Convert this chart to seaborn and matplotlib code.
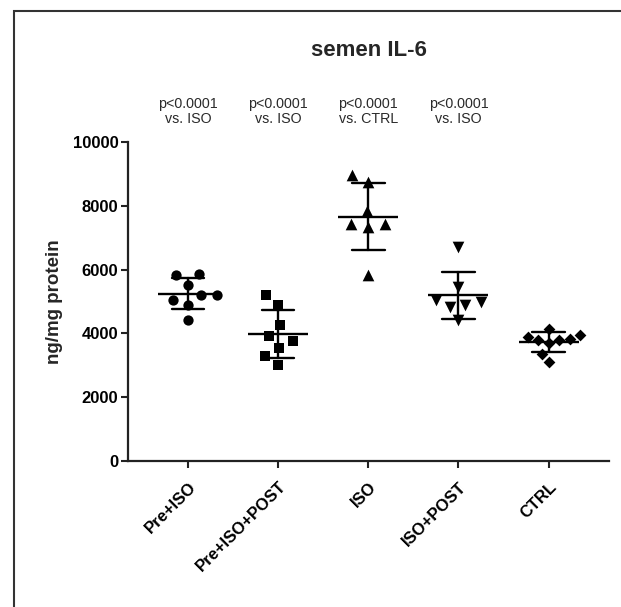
import numpy as np
import pandas as pd
import seaborn as sns
import matplotlib.pyplot as plt
from matplotlib.patches import Rectangle

groups = ["Pre+ISO", "Pre+ISO+POST", "ISO", "ISO+POST", "CTRL"]
pre_iso = [5520, 5820, 5860, 5200, 5200, 5050, 4900, 4420]
pre_iso_post = [5200, 4890, 4260, 3760, 3920, 3540, 3290, 3010]
iso = [8760, 8970, 7850, 7420, 7330, 7440, 5820]
iso_post = [6720, 5460, 5050, 4900, 5000, 4820, 4420]
ctrl = [4150, 3820, 3780, 3700, 3950, 3900, 3800, 3350, 3100]
p_labels = ["p<0.0001\nvs. ISO", "p<0.0001\nvs. ISO", "p<0.0001\nvs. CTRL", "p<0.0001\nvs. ISO"]

markers = ["o", "s", "^", "v", "D"]
sizes = [7.4, 7.0, 8.4, 8.4, 6.0]
# marker sizes used only to lay out each swarm (GraphPad spreads points wider)
swarm_spacing = [11, 11, 12, 11, 7.5]

values = [pre_iso, pre_iso_post, iso, iso_post, ctrl]
df = pd.DataFrame({
    "group": np.repeat(groups, [len(v) for v in values]),
    "value": np.concatenate(values),
})

sns.set_style("ticks")
plt.rcParams["font.family"] = ["Liberation Sans", "DejaVu Sans"]

fig = plt.figure(figsize=(6.21, 6.07), dpi=100)
ax = fig.add_axes([128 / 621, 1 - 461 / 607, 481 / 621, 319 / 607])

# mean line + SD bars
sns.pointplot(data=df, x="group", y="value", order=groups, errorbar="sd",
              capsize=0.36, color="black", markers="_", markersize=43,
              markeredgewidth=1.7, linestyle="none",
              err_kws={"linewidth": 1.7}, ax=ax)

swarms = []
for g, m, s, sp in zip(groups, markers, sizes, swarm_spacing):
    n_before = len(ax.collections)
    sns.swarmplot(data=df[df["group"] == g], x="group", y="value", order=groups,
                  marker=m, size=sp, color="black", linewidth=0, ax=ax)
    for coll in ax.collections[n_before:]:
        swarms.append((coll, s))

ax.set_xlim(-0.667, 4.67)
ax.set_ylim(0, 10000)
ax.set_yticks([0, 2000, 4000, 6000, 8000, 10000])
sns.despine(ax=ax)
for sp in ["left", "bottom"]:
    ax.spines[sp].set_linewidth(1.6)
    ax.spines[sp].set_color("#222222")
ax.tick_params(axis="both", width=1.5, length=5, colors="#222222", labelcolor="black")
ax.tick_params(axis="y", labelsize=12, pad=2)
for lab in ax.get_yticklabels():
    lab.set_fontweight("bold")

ax.set_xlabel("")
ax.set_xticks(range(len(groups)))
ax.set_xticklabels(groups, rotation=45, ha="right", va="top",
                   rotation_mode="anchor", fontsize=12, fontweight="bold")
ax.tick_params(axis="x", pad=8)

ax.set_ylabel("ng/mg protein", fontsize=13.5, fontweight="bold", labelpad=7)
ax.set_title("semen IL-6", fontsize=16, fontweight="bold", pad=62)

for i, txt in enumerate(p_labels):
    ax.text(i, 10950, txt, ha="center", va="center", fontsize=10.3,
            color="#2a2a2a", linespacing=1.05, clip_on=False)

fig.patches.append(Rectangle((14 / 621, -0.05), 1.1, 1 - 11 / 607 + 0.05,
                             transform=fig.transFigure, fill=False,
                             linewidth=1.5, edgecolor="#333333"))

# lay out swarms with the wide spacing, then freeze positions and shrink markers
fig.canvas.draw()
for coll, s in swarms:
    if "draw" in coll.__dict__:
        del coll.draw
    coll.set_sizes([s ** 2])

fig.savefig("out.png", dpi=100)
